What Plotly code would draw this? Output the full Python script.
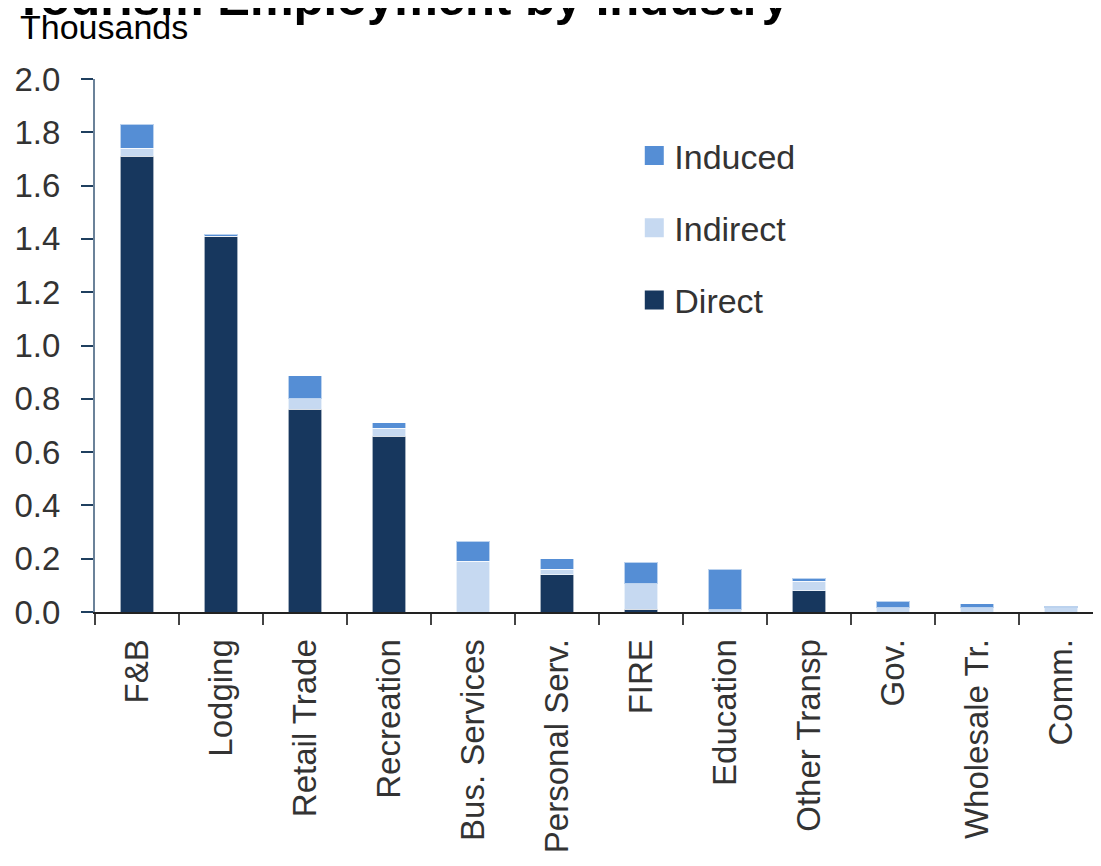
import plotly.graph_objects as go

categories = ["F&B", "Lodging", "Retail Trade", "Recreation", "Bus. Services",
              "Personal Serv.", "FIRE", "Education", "Other Transp", "Gov.",
              "Wholesale Tr.", "Comm."]
direct = [1.71, 1.41, 0.76, 0.66, 0.0, 0.14, 0.011, 0.0, 0.08, 0.0, 0.0, 0.0]
indirect = [0.03, 0.0, 0.04, 0.03, 0.19, 0.02, 0.095, 0.008, 0.035, 0.016, 0.016, 0.016]
induced = [0.09, 0.007, 0.086, 0.02, 0.075, 0.04, 0.08, 0.153, 0.011, 0.025, 0.015, 0.006]
y_ticks = [0.0, 0.2, 0.4, 0.6, 0.8, 1.0, 1.2, 1.4, 1.6, 1.8, 2.0]

FONT = "Arial, Liberation Sans, sans-serif"

fig = go.Figure()
series = [("Direct", direct, "#17375E", 3), ("Indirect", indirect, "#C6D9F1", 2),
          ("Induced", induced, "#558ED5", 1)]
for name, vals, col, rank in series:
    fig.add_trace(go.Bar(x=categories, y=vals, name=name, legendgroup=name,
                         showlegend=False,
                         marker=dict(color=col, line=dict(color="rgba(255,255,255,0.6)", width=1))))
# legend-only entries (larger square keys)
for name, vals, col, rank in series:
    fig.add_trace(go.Scatter(x=[None], y=[None], mode="markers", name=name,
                             legendgroup=name, legendrank=rank, hoverinfo="skip",
                             marker=dict(symbol="square", size=16, color=col,
                                         line=dict(color=col, width=3))))

fig.update_layout(
    barmode="stack",
    bargap=0.6,
    width=1101, height=866,
    margin=dict(l=87, r=6, t=71, b=262),
    paper_bgcolor="white", plot_bgcolor="white",
    font=dict(family=FONT, size=33, color="#333333"),
    showlegend=True,
    legend=dict(x=0.535, y=0.91, xanchor="left", yanchor="top",
                traceorder="grouped", tracegroupgap=25,
                font=dict(size=34, color="#333333"), itemwidth=30,
                bgcolor="rgba(0,0,0,0)"),
    xaxis=dict(showline=True, linecolor="#222", linewidth=2, ticks="outside",
               tickson="boundaries", ticklen=11, tickcolor="#444", tickwidth=2,
               tickangle=-90, tickfont=dict(size=33), showgrid=False,
               ticklabelstandoff=12),
    yaxis=dict(range=[0, 2.0], tickvals=y_ticks, ticktext=[f"{v:.1f}" for v in y_ticks],
               showline=True, linecolor="#6b8299", linewidth=2, ticks="outside",
               ticklen=12, tickcolor="#1f3f5f", tickwidth=2, showgrid=False,
               zeroline=False, tickfont=dict(size=33), ticklabelstandoff=14),
    annotations=[
        dict(text="<b>Tourism Employment by Industry</b>", xref="paper", yref="paper",
             x=-0.082, y=1.0, xanchor="left", yanchor="bottom", yshift=52,
             showarrow=False, font=dict(size=49, color="black")),
        dict(text="Thousands", xref="paper", yref="paper", x=-0.076, y=1.0,
             xanchor="left", yanchor="bottom", yshift=31, showarrow=False,
             font=dict(size=34, color="black")),
    ],
)

fig.write_html("out.html")
